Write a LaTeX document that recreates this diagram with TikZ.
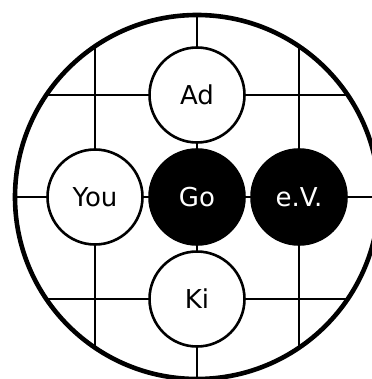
\documentclass[tikz,border=0pt]{standalone}
\usepackage{fontspec}
\setmainfont{DejaVu Sans}
\begin{document}
\begin{tikzpicture}[x=1pt,y=1pt,
  gridline/.style={line width=2.8pt},
  stone/.style={circle,minimum size=95pt,inner sep=0pt,line width=2.6pt,draw=black,
    font=\fontsize{26}{30}\selectfont},
  whitestone/.style={stone,fill=white,text=black},
  blackstone/.style={stone,fill=black,text=white}]
\useasboundingbox (0,0) rectangle (371,-379);
\coordinate (c) at (197,-197);
\begin{scope}
  \clip (c) circle[radius=182];
  \foreach \v in {95,197,299}{
    \draw[gridline] (\v,0) -- (\v,-400);
    \draw[gridline] (0,-\v) -- (400,-\v);
  }
\end{scope}
\draw[line width=4.6pt] (c) circle[radius=182];
\node[whitestone] (ad)  at (197,-95)  {Ad};
\node[whitestone] (you) at (95,-197)  {You};
\node[blackstone] (go)  at (197,-197) {Go};
\node[blackstone] (ev)  at (299,-197) {e.V.};
\node[whitestone] (ki)  at (197,-299) {Ki};
\end{tikzpicture}
\end{document}
